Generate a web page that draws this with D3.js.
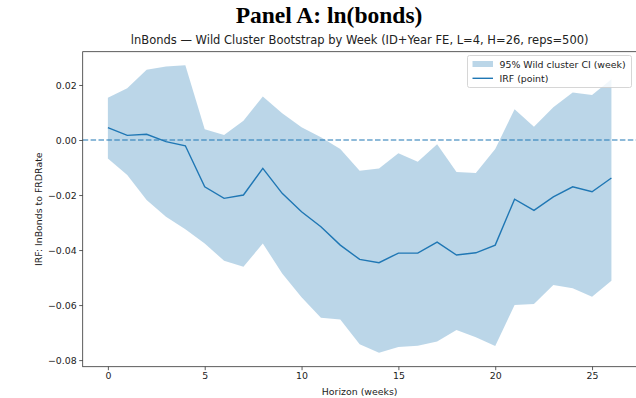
<!DOCTYPE html>
<html>
<head>
<meta charset="utf-8">
<script src="https://cdn.jsdelivr.net/npm/d3@7"></script>
<style>
  body { margin: 0; background: #fff; }
  svg { display: block; }
</style>
</head>
<body>
<div id="chart"></div>
<script>
// horizon in weeks
const horizon = [0, 1, 2, 3, 4, 5, 6, 7, 8, 9, 10, 11, 12, 13, 14, 15, 16, 17, 18, 19, 20, 21, 22, 23, 24, 25, 26];
// point IRF
const irf = [0.0045, 0.0017, 0.0021, -0.0006, -0.0021, -0.0170, -0.0212, -0.0200, -0.0103, -0.0194,
             -0.0261, -0.0315, -0.0382, -0.0434, -0.0446, -0.0411, -0.0411, -0.0371, -0.0418, -0.0410,
             -0.0382, -0.0215, -0.0256, -0.0207, -0.0170, -0.0188, -0.0138];
// wild cluster bootstrap 95% band
const ciUpper = [0.0154, 0.0188, 0.0255, 0.0267, 0.0272, 0.0039, 0.0018, 0.0070, 0.0158, 0.0097,
                 0.0046, 0.0010, -0.0033, -0.0112, -0.0104, -0.0048, -0.0079, -0.0015, -0.0116, -0.0120,
                 -0.0033, 0.0112, 0.0048, 0.0119, 0.0173, 0.0164, 0.0221];
const ciLower = [-0.0067, -0.0127, -0.0218, -0.0279, -0.0324, -0.0376, -0.0439, -0.0461, -0.0376, -0.0485,
                 -0.0572, -0.0646, -0.0652, -0.0742, -0.0773, -0.0752, -0.0748, -0.0732, -0.0691, -0.0717,
                 -0.0749, -0.0600, -0.0596, -0.0527, -0.0539, -0.0570, -0.0512];
const xTicks = [0, 5, 10, 15, 20, 25];
const yTicks = [0.02, 0.00, -0.02, -0.04, -0.06, -0.08];

const width = 636, height = 398;
const axL = 82.7, axR = 636.6, axT = 51.7, axB = 366.7;
const C0 = "#1f77b4";
const sans = "'DejaVu Sans', sans-serif";

const svg = d3.select("#chart").append("svg")
    .attr("width", width)
    .attr("height", height);

const x = d3.scaleLinear().domain([-1.3, 27.3]).range([axL, axR]);
const y = d3.scaleLinear().domain([-0.0824, 0.0321]).range([axB, axT]);

const rows = horizon.map((h, i) => ({ h: h, v: irf[i], lo: ciLower[i], hi: ciUpper[i] }));

// band
svg.append("path")
    .datum(rows)
    .attr("d", d3.area().x(d => x(d.h)).y0(d => y(d.lo)).y1(d => y(d.hi)))
    .style("fill", C0)
    .style("fill-opacity", 0.3);

// zero line
svg.append("line")
    .attr("x1", axL).attr("x2", axR)
    .attr("y1", y(0)).attr("y2", y(0))
    .style("stroke", C0)
    .style("stroke-width", 1.1)
    .style("stroke-dasharray", "5.5,2.4");

// IRF line
svg.append("path")
    .datum(rows)
    .attr("d", d3.line().x(d => x(d.h)).y(d => y(d.v)))
    .style("fill", "none")
    .style("stroke", C0)
    .style("stroke-width", 1.4);

// axes
const xAxis = svg.append("g")
    .attr("transform", `translate(0,${axB})`)
    .call(d3.axisBottom(x).tickValues(xTicks).tickSize(3.5).tickPadding(2.5).tickFormat(d3.format("d")));
const yAxis = svg.append("g")
    .attr("transform", `translate(${axL},0)`)
    .call(d3.axisLeft(y).tickValues(yTicks).tickSize(3.5).tickPadding(2.5).tickFormat(d3.format(".2f")));

[xAxis, yAxis].forEach(g => {
    g.select(".domain").remove();
    g.selectAll(".tick line").style("stroke", "#333").style("stroke-width", 0.8);
    g.selectAll(".tick text").style("font-family", sans).style("font-size", "9.4px").style("fill", "#222");
});

// spines
svg.append("rect")
    .attr("x", axL).attr("y", axT)
    .attr("width", axR - axL).attr("height", axB - axT)
    .style("fill", "none")
    .style("stroke", "#333")
    .style("stroke-width", 0.8);

// titles
svg.append("text")
    .attr("x", 329).attr("y", 23)
    .attr("text-anchor", "middle")
    .style("font-family", "'Liberation Serif', 'Times New Roman', serif")
    .style("font-weight", "bold")
    .style("font-size", "23.5px")
    .text("Panel A: ln(bonds)");

svg.append("text")
    .attr("x", (axL + axR) / 2).attr("y", 44)
    .attr("text-anchor", "middle")
    .style("font-family", sans)
    .style("font-size", "11.5px")
    .style("fill", "#222")
    .text("lnBonds \u2014 Wild Cluster Bootstrap by Week (ID+Year FE, L=4, H=26, reps=500)");

svg.append("text")
    .attr("x", (axL + axR) / 2).attr("y", 395)
    .attr("text-anchor", "middle")
    .style("font-family", sans)
    .style("font-size", "9.4px")
    .style("fill", "#222")
    .text("Horizon (weeks)");

svg.append("text")
    .attr("transform", `translate(42,${(axT + axB) / 2}) rotate(-90)`)
    .attr("text-anchor", "middle")
    .style("font-family", sans)
    .style("font-size", "9.4px")
    .style("fill", "#222")
    .text("IRF: lnBonds to FRDRate");

// legend
const lg = svg.append("g").attr("transform", "translate(467.5,55.5)");
lg.append("rect")
    .attr("width", 164).attr("height", 32).attr("rx", 2)
    .style("fill", "#fff").style("fill-opacity", 0.8)
    .style("stroke", "#ccc").style("stroke-width", 0.8);
lg.append("rect")
    .attr("x", 5).attr("y", 5.5).attr("width", 20.5).attr("height", 6)
    .style("fill", C0).style("fill-opacity", 0.3);
lg.append("line")
    .attr("x1", 5).attr("x2", 25.5).attr("y1", 22.8).attr("y2", 22.8)
    .style("stroke", C0).style("stroke-width", 1.4);
lg.selectAll("text.lbl")
    .data(["95% Wild cluster CI (week)", "IRF (point)"])
    .enter().append("text")
    .attr("class", "lbl")
    .attr("x", 32).attr("y", (d, i) => 12.6 + i * 14.2)
    .style("font-family", sans)
    .style("font-size", "9.4px")
    .style("fill", "#222")
    .text(d => d);
</script>
</body>
</html>
